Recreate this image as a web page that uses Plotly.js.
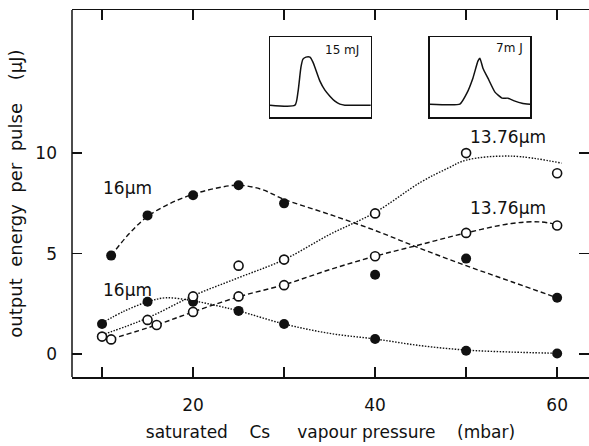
<!DOCTYPE html>
<html>
<head>
<meta charset="utf-8">
<script src="https://cdn.plot.ly/plotly-3.0.1.min.js"></script>
<style>html,body{margin:0;padding:0;background:#fff}#chart{width:589px;height:446px}</style>
</head>
<body>
<div id="chart"></div>
<script>
// measured points
const p16a_x = [11, 15, 20, 25, 30, 40, 50, 60];
const p16a_y = [4.9, 6.9, 7.9, 8.4, 7.5, 3.95, 4.75, 2.8];
const p1376a_x = [10, 15, 20, 25, 30, 40, 50, 60];
const p1376a_y = [0.87, 1.7, 2.87, 4.4, 4.7, 7.0, 10.0, 9.0];
const p1376b_x = [11, 16, 20, 25, 30, 40, 50, 60];
const p1376b_y = [0.73, 1.45, 2.1, 2.87, 3.43, 4.87, 6.03, 6.4];
const p16b_x = [10, 15, 20, 25, 30, 40, 50, 60];
const p16b_y = [1.5, 2.6, 2.6, 2.15, 1.5, 0.75, 0.17, 0.03];

// hand-drawn guide curves
const c16a_x = [11, 13, 15, 17.5, 20, 22.5, 25, 27.5, 30, 35, 40, 45, 50, 55, 60];
const c16a_y = [4.9, 6.0, 6.85, 7.5, 7.95, 8.25, 8.4, 8.2, 7.7, 6.95, 6.15, 5.25, 4.4, 3.6, 2.8];
const c1376a_x = [10, 15, 20, 25, 30, 35, 40, 45, 48, 50, 55, 60.5];
const c1376a_y = [0.95, 1.8, 2.9, 3.8, 4.7, 5.95, 7.05, 8.55, 9.25, 9.65, 9.85, 9.5];
const c1376b_x = [11, 16, 20, 25, 30, 35, 40, 45, 50, 55, 58, 60];
const c1376b_y = [0.75, 1.45, 2.1, 2.85, 3.45, 4.2, 4.87, 5.45, 6.03, 6.5, 6.58, 6.45];
const c16b_x = [10, 12.5, 15, 17, 20, 22.5, 25, 30, 35, 40, 45, 50, 55, 60];
const c16b_y = [1.55, 2.15, 2.6, 2.8, 2.65, 2.42, 2.15, 1.5, 1.03, 0.75, 0.42, 0.2, 0.1, 0.04];

// inset pulse shapes
const pulse1_t = [0, 25, 28, 31, 33, 36, 40, 43, 46, 50, 55, 60, 65, 70, 75, 101];
const pulse1_a = [12, 12, 25, 50, 58, 60, 60, 55, 47, 36, 27, 21, 16, 13, 12, 12];
const pulse2_t = [0, 30, 37, 43, 48, 50, 53, 58, 65, 72, 78, 85, 92, 100];
const pulse2_a = [13, 13, 24, 39, 56, 59, 49, 39, 25, 19, 19, 16, 14, 13];

// tick labels
const xTickVals = [10, 20, 30, 40, 50, 60];
const xTickText = ['', '20', '', '40', '', '60'];
const yTickVals = [0, 5, 10];
const yTickText = ['0', '5', '10'];

const F = 'DejaVu Sans, Arial, sans-serif';
const dashA = '5px,3px';
const dotA = '1.5px,1.5px';
const sp = n => '&nbsp;'.repeat(n);

function curve(x, y, dash, xa, ya) {
  return {x: x, y: y, mode: 'lines', type: 'scatter', showlegend: false, hoverinfo: 'skip',
    line: {color: '#111', width: 1.4, dash: dash, shape: 'spline', smoothing: 1}, xaxis: xa || 'x', yaxis: ya || 'y'};
}
function pts(x, y, open) {
  return {x: x, y: y, mode: 'markers', type: 'scatter', showlegend: false,
    marker: {size: open ? 9 : 10, color: open ? '#fff' : '#111', line: {color: '#111', width: open ? 1.6 : 0}}};
}

const data = [
  curve(c16a_x, c16a_y, dashA),
  curve(c1376a_x, c1376a_y, dotA),
  curve(c1376b_x, c1376b_y, dashA),
  curve(c16b_x, c16b_y, dotA),
  pts(p16a_x, p16a_y, false),
  pts(p16b_x, p16b_y, false),
  pts(p1376b_x, p1376b_y, true),
  pts(p1376a_x, p1376a_y, true),
  {x: pulse1_t, y: pulse1_a, mode: 'lines', type: 'scatter', showlegend: false, hoverinfo: 'skip',
   line: {color: '#111', width: 1.5, shape: 'spline', smoothing: 0.6}, xaxis: 'x2', yaxis: 'y2'},
  {x: pulse2_t, y: pulse2_a, mode: 'lines', type: 'scatter', showlegend: false, hoverinfo: 'skip',
   line: {color: '#111', width: 1.5, shape: 'spline', smoothing: 0.4}, xaxis: 'x3', yaxis: 'y3'}
];

const insetAxis = (dom, anchor, rng) => ({domain: dom, anchor: anchor, range: rng, showline: true, mirror: true,
  linecolor: '#111', linewidth: 1.5, ticks: '', showticklabels: false, showgrid: false, zeroline: false, fixedrange: true});

const layout = {
  width: 589, height: 446,
  margin: {l: 72, r: 0, t: 10, b: 69},
  paper_bgcolor: '#fff', plot_bgcolor: '#fff',
  font: {family: F, color: '#111', size: 17},
  showlegend: false,
  xaxis: {
    range: [6.7, 63.5], tickvals: xTickVals, ticktext: xTickText,
    ticks: 'inside', ticklen: 10, tickwidth: 1.5, tickcolor: '#111',
    showline: true, linecolor: '#111', linewidth: 1.5, mirror: 'ticks',
    showgrid: false, zeroline: false, ticklabelstandoff: 12,
    tickfont: {family: F, size: 17, color: '#111'},
    title: {text: 'saturated' + sp(4) + 'Cs' + sp(5) + 'vapour pressure' + sp(4) + '(mbar)', font: {family: F, size: 17, color: '#111'}, standoff: 12}
  },
  yaxis: {
    range: [-1.14, 17.12], tickvals: yTickVals, ticktext: yTickText,
    ticks: 'inside', ticklen: 10, tickwidth: 1.5, tickcolor: '#111',
    showline: false, mirror: 'ticks',
    showgrid: false, zeroline: false, ticklabelstandoff: 14,
    tickfont: {family: F, size: 17, color: '#111'},
    title: {text: 'output' + sp(2) + 'energy' + sp(2) + 'per' + sp(2) + 'pulse' + sp(4) + '(µJ)', font: {family: F, size: 18, color: '#111'}, standoff: 8}
  },
  xaxis2: insetAxis([0.383, 0.578], 'y2', [0, 101]),
  yaxis2: insetAxis([0.708, 0.926], 'x2', [0, 80]),
  xaxis3: insetAxis([0.692, 0.886], 'y3', [0, 100]),
  yaxis3: insetAxis([0.708, 0.926], 'x3', [0, 80]),
  shapes: [
    {type: 'line', xref: 'paper', yref: 'paper', x0: 0, x1: 0, y0: 0, y1: 1, line: {color: '#111', width: 1.5}}
  ],
  annotations: [
    {x: 12.8, y: 8.26, text: '16µm', showarrow: false, font: {family: F, size: 17, color: '#111'}},
    {x: 12.8, y: 3.18, text: '16µm', showarrow: false, font: {family: F, size: 17, color: '#111'}},
    {x: 54.6, y: 10.8, text: '13.76µm', showarrow: false, font: {family: F, size: 17, color: '#111'}},
    {x: 54.6, y: 7.26, text: '13.76µm', showarrow: false, font: {family: F, size: 17, color: '#111'}},
    {xref: 'x2', yref: 'y2', x: 72, y: 67, text: '15 mJ', showarrow: false, font: {family: F, size: 12, color: '#111'}},
    {xref: 'x3', yref: 'y3', x: 79, y: 69, text: '7m J', showarrow: false, font: {family: F, size: 12, color: '#111'}}
  ]
};

Plotly.newPlot('chart', data, layout, {staticPlot: true, displayModeBar: false});
</script>
</body>
</html>
